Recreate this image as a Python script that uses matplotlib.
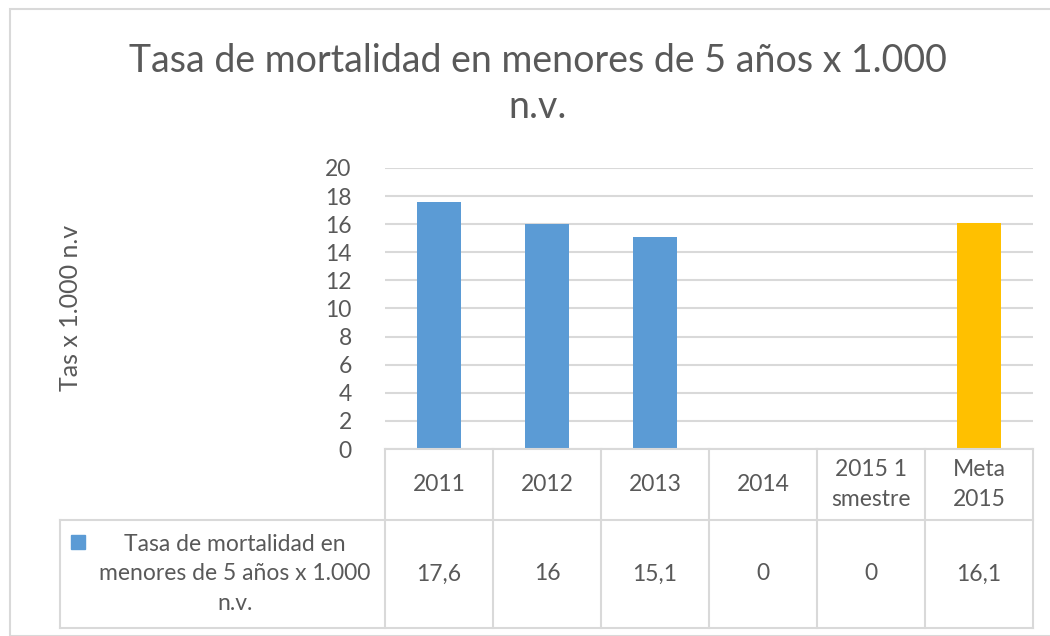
import numpy as np
import matplotlib
matplotlib.use("Agg")
import matplotlib.pyplot as plt
from matplotlib.patches import Rectangle

categories = ["2011", "2012", "2013", "2014", "2015 1\nsmestre", "Meta\n2015"]
values = [17.6, 16, 15.1, 0, 0, 16.1]
value_labels = ["17,6", "16", "15,1", "0", "0", "16,1"]
bar_colors = ["#5B9BD5", "#5B9BD5", "#5B9BD5", "#5B9BD5", "#5B9BD5", "#FFC000"]
series_name = "Tasa de mortalidad en\nmenores de 5 años x 1.000\nn.v."
title = "Tasa de mortalidad en menores de 5 años x 1.000\nn.v."
ylabel = "Tas x 1.000 n.v"
yticks = np.arange(0, 21, 2)

W, H = 1050, 636
plt.rcParams['font.family'] = ['Lato', 'DejaVu Sans']
txt = "#595959"
grid = "#D9D9D9"
fs = 16.5

fig = plt.figure(figsize=(W / 100, H / 100), dpi=100)

# chart border
fig.patches.append(Rectangle((10 / W, 0), 1.2, 1 - 9 / H, transform=fig.transFigure,
                             fill=False, edgecolor=grid, lw=1.5))

# plot area in pixels
x0, x1, ytop, ybot = 385, 1033, 168, 449
ax = fig.add_axes([x0 / W, 1 - ybot / H, (x1 - x0) / W, (ybot - ytop) / H])

x = np.arange(len(categories))
ax.bar(x, values, width=0.4, color=bar_colors, zorder=3)
ax.set_xlim(-0.5, len(categories) - 0.5)
ax.set_ylim(0, 20)
ax.set_yticks(yticks)
ax.set_yticklabels([str(t) for t in yticks], fontsize=fs, color=txt)
ax.set_xticks([])
ax.tick_params(axis='y', length=0, pad=24)
ax.grid(axis='y', color=grid, lw=1.5, zorder=0)
for s in ax.spines.values():
    s.set_visible(False)

fig.text(70 / W, 1 - 308 / H, ylabel, rotation=90, ha='center', va='center',
         fontsize=18, color=txt)
fig.text(538 / W, 1 - 84 / H, title, ha='center', va='center', fontsize=27,
         color=txt, linespacing=1.32)

# data table below the axis
def px_to_ax(px, py):
    return (px - x0) / (x1 - x0), (ybot - py) / (ybot - ytop)

ya, yb, yc = 449, 520, 628
legx = 60
colw = (x1 - x0) / len(categories)

def line(p, q):
    (ax_x1, ax_y1), (ax_x2, ax_y2) = px_to_ax(*p), px_to_ax(*q)
    ax.plot([ax_x1, ax_x2], [ax_y1, ax_y2], transform=ax.transAxes, color=grid,
            lw=1.5, clip_on=False, zorder=4)

line((x0, ya), (x1, ya))
line((legx, yb), (x1, yb))
line((legx, yc), (x1, yc))
line((legx, yb), (legx, yc))
for i in range(len(categories) + 1):
    line((x0 + i * colw, ya), (x0 + i * colw, yc))

for i, (c, v) in enumerate(zip(categories, value_labels)):
    cx = x0 + (i + 0.5) * colw
    ax.text(*px_to_ax(cx, (ya + yb) / 2), c, transform=ax.transAxes, ha='center',
            va='center', fontsize=fs, color=txt, linespacing=1.5)
    ax.text(*px_to_ax(cx, (yb + yc) / 2), v, transform=ax.transAxes, ha='center',
            va='center', fontsize=fs, color=txt)

ax.add_patch(Rectangle(px_to_ax(71, 549), 14 / (x1 - x0), 14 / (ybot - ytop),
                       transform=ax.transAxes, color="#5B9BD5", clip_on=False))
ax.text(*px_to_ax(235, (yb + yc) / 2), series_name, transform=ax.transAxes,
        ha='center', va='center', fontsize=fs, color=txt, linespacing=1.5)

fig.savefig("out.png", dpi=100)
